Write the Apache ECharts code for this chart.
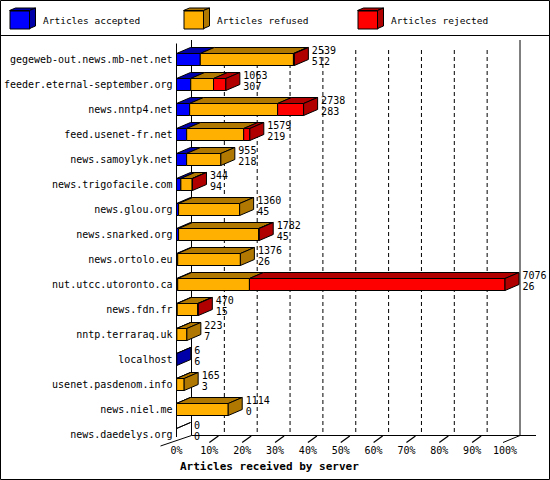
<!DOCTYPE html>
<html>
<head>
<meta charset="utf-8">
<script src="https://cdn.jsdelivr.net/npm/echarts@6/dist/echarts.min.js"></script>
<style>html,body{margin:0;padding:0;background:#fff}#c{width:550px;height:480px}</style>
</head>
<body>
<div id="c"></div>
<script>
// ---- data ----
const servers = [
  'gegeweb-out.news.mb-net.net',
  'feeder.eternal-september.org',
  'news.nntp4.net',
  'feed.usenet-fr.net',
  'news.samoylyk.net',
  'news.trigofacile.com',
  'news.glou.org',
  'news.snarked.org',
  'news.ortolo.eu',
  'nut.utcc.utoronto.ca',
  'news.fdn.fr',
  'nntp.terraraq.uk',
  'localhost',
  'usenet.pasdenom.info',
  'news.niel.me',
  'news.daedelys.org'
];
const accepted = [512, 307, 283, 219, 218, 94, 45, 45, 26, 26, 15, 7, 6, 3, 0, 0];
const refused  = [2007, 491, 1895, 1228, 737, 244, 1315, 1727, 1350, 1545, 443, 216, 0, 162, 1114, 0];
const rejected = [20, 265, 560, 132, 0, 6, 0, 10, 0, 5505, 12, 0, 0, 0, 0, 0];
const tickPercents = [0, 10, 20, 30, 40, 50, 60, 70, 80, 90, 100];
const seriesNames = ['Articles accepted', 'Articles refused', 'Articles rejected'];
const axisTitle = 'Articles received by server';

// ---- styles ----
const faceColors  = ['#0000ff', '#ffb000', '#ff0000'];
const shadeColors = ['#0000a8', '#b07800', '#b00000'];
const FONT = 'DejaVu Sans Mono';
const DXB = 14, DY = -6, HALF = 6;   // bar depth
const DXW = 15;                        // wall depth
const LEG_X = [9.5, 183.5, 357.5];

const segs = [accepted, refused, rejected];
const totals = servers.map((_, i) => accepted[i] + refused[i] + rejected[i]);
const maxTotal = Math.max(...totals);
const pct = v => v / maxTotal * 100;

function segData(k) {
  const out = [];
  servers.forEach((s, i) => {
    let start = 0;
    for (let j = 0; j < k; j++) start += segs[j][i];
    const end = start + segs[k][i];
    let last = -1;
    for (let j = 0; j < 3; j++) if (segs[j][i] > 0) last = j;
    if (segs[k][i] > 0 || k === 0) out.push([pct(start), pct(end), i, last === k ? 1 : 0]);
  });
  return out;
}

function barRender(k) {
  return function (params, api) {
    const a = api.coord([api.value(0), api.value(2)]);
    const b = api.coord([api.value(1), api.value(2)]);
    const top = a[1] - HALF, bot = a[1] + HALF;
    const st = (f) => ({ fill: f, stroke: '#000', lineWidth: 1 });
    const ch = [];
    ch.push({ type: 'polygon', shape: { points: [[a[0], top], [a[0] + DXB, top + DY], [b[0] + DXB, top + DY], [b[0], top]] }, style: st(shadeColors[k]) });
    if (b[0] > a[0]) ch.push({ type: 'rect', shape: { x: a[0], y: top, width: b[0] - a[0], height: bot - top }, style: st(faceColors[k]) });
    if (api.value(3) === 1) ch.push({ type: 'polygon', shape: { points: [[b[0], top], [b[0] + DXB, top + DY], [b[0] + DXB, bot + DY], [b[0], bot]] }, style: st(shadeColors[k]) });
    return { type: 'group', children: ch };
  };
}

function frameRender(params, api) {
  const n = servers.length;
  const p0 = api.coord([0, 0]);
  const pN = api.coord([0, n - 1]);
  const x0 = p0[0], y0 = p0[1], yN = pN[1];
  const xAt = v => api.coord([v, 0])[0];
  const x100 = xAt(100);
  const ln = (x1, y1, x2, y2, extra) => ({ type: 'line', shape: { x1, y1, x2, y2 }, style: Object.assign({ stroke: '#000', lineWidth: 1 }, extra || {}) });
  const ch = [];
  ch.push(ln(x0, y0 - 16, x0, yN + 2.5));
  ch.push(ln(x0 + DXW, y0 - 19.5, x0 + DXW, yN + 1));
  ch.push(ln(x100 + DXW, y0 - 19.5, x100 + DXW, yN + 1));
  tickPercents.forEach(v => {
    if (v > 0 && v < 100) {
      const x = xAt(v);
      ch.push(ln(x + DXW, y0 - 9.5, x + DXW, yN + 1, { lineDash: [4, 3] }));
      ch.push(ln(x, yN + 8, x + 9, yN + 1.5, { lineWidth: 1.3 }));
    }
  });
  ch.push(ln(x0 + DXW, yN + 1, x100 + DXW + 16, yN + 1));
  ch.push(ln(x0 - 16, yN + 11.5, x0 + DXW, yN + 1));
  ch.push(ln(x100 - 2, yN + 8, x100 + DXW, yN + 1));
  return { type: 'group', children: ch };
}

function labelRender(params, api) {
  const p = api.coord([api.value(0), api.value(1)]);
  const x = p[0] + DXB + 3.5;
  const ts = (t) => ({ text: t, fill: '#000', fontFamily: FONT, fontSize: 10, align: 'left', verticalAlign: 'middle' });
  return { type: 'group', children: [
    { type: 'text', x: x, y: p[1] - 9.5, style: ts(String(api.value(2))) },
    { type: 'text', x: x, y: p[1] + 1.5, style: ts(String(api.value(3))) }
  ] };
}

// legend 3D faces
const legendFaces = [];
LEG_X.forEach((lx, k) => {
  const t = 10.5, w = 20, h = 18, dx = 6, dy = -2.5;
  legendFaces.push({ type: 'polygon', z: 100, shape: { points: [[lx, t], [lx + dx, t + dy], [lx + w + dx, t + dy], [lx + w, t]] }, style: { fill: shadeColors[k], stroke: '#000', lineWidth: 1 } });
  legendFaces.push({ type: 'polygon', z: 100, shape: { points: [[lx + w, t], [lx + w + dx, t + dy], [lx + w + dx, t + h + dy], [lx + w, t + h]] }, style: { fill: shadeColors[k], stroke: '#000', lineWidth: 1 } });
});

const chart = echarts.init(document.getElementById('c'), null, { renderer: 'svg' });
chart.setOption({
  animation: false,
  backgroundColor: '#fff',
  textStyle: { fontFamily: FONT },
  grid: { left: 176.5, right: 45, top: 59.5, bottom: 45.5, containLabel: false },
  legend: seriesNames.map((nm, k) => ({
    data: [nm], left: LEG_X[k], top: 10.5, padding: 0, itemWidth: 20, itemHeight: 18,
    icon: 'rect', selectedMode: false,
    itemStyle: { color: faceColors[k], borderColor: '#000', borderWidth: 1 },
    textStyle: { fontFamily: FONT, fontSize: 9.5, color: '#000', padding: [0, 0, 0, 8] }
  })),
  xAxis: {
    type: 'value', min: 0, max: 100, interval: 10,
    axisLine: { show: false }, axisTick: { show: false }, splitLine: { show: false },
    axisLabel: { formatter: '{value}%', fontFamily: FONT, fontSize: 10, color: '#000', margin: 11 },
    name: axisTitle, nameLocation: 'start', nameGap: -3.5,
    nameTextStyle: { fontFamily: FONT, fontSize: 11, fontWeight: 'bold', color: '#000', align: 'left', verticalAlign: 'top', padding: [26, 0, 0, 0] }
  },
  yAxis: {
    type: 'category', data: servers, inverse: true, boundaryGap: false,
    axisLine: { show: false }, axisTick: { show: false }, splitLine: { show: false },
    axisLabel: { fontFamily: FONT, fontSize: 10, color: '#000', margin: 4, interval: 0 }
  },
  graphic: [
    { type: 'rect', z: 100, shape: { x: 0.5, y: 0.5, width: 549, height: 479 }, style: { fill: 'none', stroke: '#000', lineWidth: 1 } },
    { type: 'line', z: 100, shape: { x1: 0, y1: 35.5, x2: 550, y2: 35.5 }, style: { stroke: '#000', lineWidth: 1 } }
  ].concat(legendFaces),
  series: [
    { type: 'custom', name: 'frame', silent: true, clip: false, z: 1, data: [[0, 0]], encode: { x: 0, y: 1 }, renderItem: frameRender },
    ...[0, 1, 2].map(k => ({
      type: 'custom', name: seriesNames[k], clip: false, z: 2 + k,
      itemStyle: { color: faceColors[k] },
      data: segData(k), encode: { x: [0, 1], y: 2 }, renderItem: barRender(k)
    })),
    { type: 'custom', name: 'values', silent: true, clip: false, z: 10,
      data: servers.map((s, i) => [pct(totals[i]), i, totals[i], accepted[i]]),
      encode: { x: 0, y: 1 }, renderItem: labelRender }
  ]
});
</script>
</body>
</html>
